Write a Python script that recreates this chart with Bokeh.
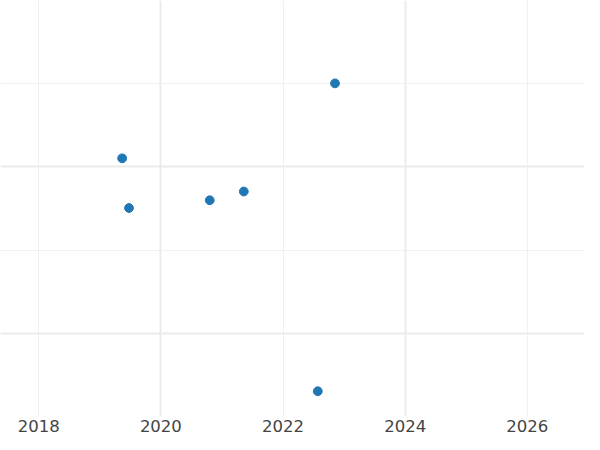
from bokeh.plotting import figure
from bokeh.models import Range1d, FixedTicker, Grid
from bokeh.embed import file_html
from bokeh.resources import INLINE

# data
years = [2019.366, 2019.478, 2020.800, 2021.358, 2022.851, 2022.569]
values = [2.104, 1.508, 1.601, 1.706, 3.003, -0.690]
x_ticks = [2018, 2020, 2022, 2024, 2026]
x_major = [2020, 2024]
x_minor = [2018, 2022, 2026]
y_major = [0, 2]
y_minor = [1, 3]

p = figure(width=584, height=438, output_backend="svg", toolbar_location=None,
           x_range=Range1d(2017.374, 2026.936), y_range=Range1d(-0.993, 3.997),
           min_border=0, min_border_left=0, min_border_right=0, min_border_top=0,
           min_border_bottom=22)
p.outline_line_color = None
p.background_fill_color = "white"
p.border_fill_color = "white"

p.xgrid.visible = False
p.ygrid.visible = False
p.yaxis.visible = False

xa = p.xaxis[0]
xa.ticker = FixedTicker(ticks=x_ticks)
xa.axis_line_color = None
xa.major_tick_line_color = None
xa.minor_tick_line_color = None
xa.major_tick_out = 0
xa.major_tick_in = 0
xa.major_label_standoff = 3
xa.major_label_text_font = "DejaVu Sans"
xa.major_label_text_font_size = "16.5px"
xa.major_label_text_color = "#444444"

p.add_layout(Grid(dimension=0, ticker=FixedTicker(ticks=x_major), grid_line_color="#ebebeb", grid_line_width=2))
p.add_layout(Grid(dimension=0, ticker=FixedTicker(ticks=x_minor), grid_line_color="#f0f0f0", grid_line_width=1))
p.add_layout(Grid(dimension=1, ticker=FixedTicker(ticks=y_major), grid_line_color="#ebebeb", grid_line_width=2))
p.add_layout(Grid(dimension=1, ticker=FixedTicker(ticks=y_minor), grid_line_color="#f0f0f0", grid_line_width=1))

p.scatter(years, values, size=8.8, color="#1f77b4", line_color="#1f77b4")

open("out.html", "w").write(file_html(p, INLINE))
